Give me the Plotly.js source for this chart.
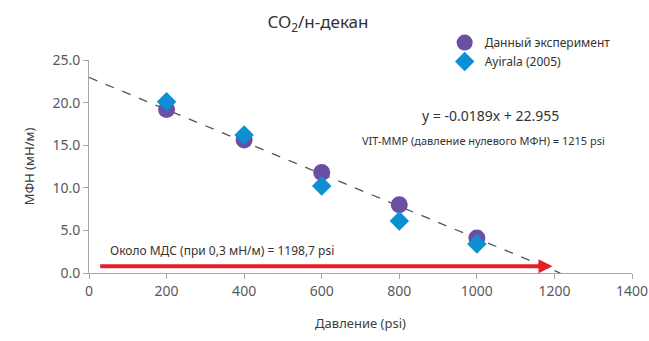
<!DOCTYPE html>
<html><head><meta charset="utf-8">
<script src="https://cdn.plot.ly/plotly-3.0.1.min.js"></script>
<style>body{margin:0;background:#fff}#c{width:649px;height:341px}</style>
</head><body><div id="c"></div>
<script>
const pressure = [200, 400, 600, 800, 1000];
const ift_exp = [19.2, 15.6, 11.8, 8.0, 4.1];
const ift_ayirala = [20.1, 16.2, 10.2, 6.1, 3.4];
const trend_x = [0, 1215];
const slope = -0.0189, intercept = 22.955;
const trend_y = trend_x.map(x => slope * x + intercept);
const arrow_from = [25, 0.8];
const arrow_to = [1195, 0.8];
const xticks = [0, 200, 400, 600, 800, 1000, 1200, 1400];
const yticks = [0, 5, 10, 15, 20, 25];

const font = "'Noto Sans', 'Open Sans', sans-serif";
const traces = [
  {x: trend_x, y: trend_y, mode: 'lines', showlegend: false, hoverinfo: 'skip',
   line: {color: '#555555', width: 1.3, dash: 'dash'}},
  {x: pressure, y: ift_exp, mode: 'markers', name: 'Данный эксперимент',
   marker: {symbol: 'circle', size: 17, color: '#6A4FA3'}},
  {x: pressure, y: ift_ayirala, mode: 'markers', name: 'Ayirala (2005)',
   marker: {symbol: 'diamond', size: 15, color: '#0E8FD3'}}
];
const layout = {
  width: 649, height: 341,
  margin: {l: 89, r: 17, t: 60, b: 68},
  paper_bgcolor: '#fff', plot_bgcolor: '#fff',
  font: {family: font, color: '#404040', size: 12},
  title: {text: 'CO<sub>2</sub>/н-декан', x: 0.49, xanchor: 'center', y: 0.935, yanchor: 'middle',
          font: {size: 17, color: '#333'}},
  xaxis: {range: [0, 1400], tickvals: xticks, ticktext: xticks.map(String),
          showgrid: false, zeroline: false, showline: true, linecolor: '#A6A6A6',
          ticks: 'outside', ticklen: 5, tickcolor: '#A6A6A6',
          tickfont: {size: 14, color: '#595959'},
          title: {text: 'Давление (psi)', font: {size: 13, color: '#404040'}, standoff: 20}},
  yaxis: {range: [0, 25], tickvals: yticks, ticktext: yticks.map(v => v.toFixed(1)),
          showgrid: false, zeroline: false, showline: true, linecolor: '#A6A6A6',
          ticks: 'outside', ticklen: 5, tickcolor: '#A6A6A6',
          tickfont: {size: 14, color: '#595959'},
          title: {text: 'МФН (мН/м)', font: {size: 13, color: '#404040'}, standoff: 14}},
  legend: {x: 0.655, y: 1.15, xanchor: 'left', yanchor: 'top', bgcolor: 'rgba(0,0,0,0)',
           font: {size: 12, color: '#333'}, tracegroupgap: 4},
  annotations: [
    {x: 1034, y: 18.5, xref: 'x', yref: 'y', text: 'y = -0.0189x + 22.955', showarrow: false,
     font: {size: 14, color: '#333'}},
    {x: 1018, y: 15.5, xref: 'x', yref: 'y', text: 'VIT-MMP (давление нулевого МФН) = 1215 psi', showarrow: false,
     font: {size: 11, color: '#333'}},
    {x: 50, y: 2.7, xref: 'x', yref: 'y', xanchor: 'left', text: 'Около МДС (при 0,3 мН/м) = 1198,7 psi', showarrow: false,
     font: {size: 12, color: '#333'}},
    {x: arrow_to[0], y: arrow_to[1], ax: arrow_from[0], ay: arrow_from[1], axref: 'x', ayref: 'y',
     xref: 'x', yref: 'y', text: '', showarrow: true, arrowhead: 2, arrowsize: 0.7, arrowwidth: 4,
     arrowcolor: '#E3202A'}
  ]
};
Plotly.newPlot('c', traces, layout, {displayModeBar: false, staticPlot: true});
</script></body></html>
